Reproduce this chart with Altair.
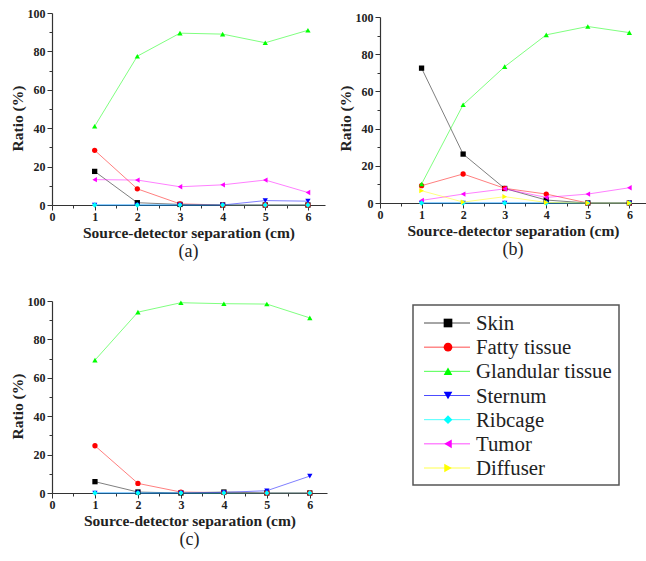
import altair as alt
import pandas as pd

# Source-detector separations (cm) at which each tissue ratio was computed
SEPARATION_CM = [1, 2, 3, 4, 5, 6]

TISSUES = ["Skin", "Fatty tissue", "Glandular tissue", "Sternum", "Ribcage", "Tumor", "Diffuser"]
TISSUE_COLORS = ["#000000", "#ff0000", "#00ff00", "#0000ff", "#00ffff", "#ff00ff", "#ffff00"]
TISSUE_SHAPES = ["square", "circle", "triangle-up", "triangle-down", "diamond",
                 "triangle-left", "triangle-right"]

# Panel (a)
A_SKIN = [17.5, 1.2, 0.3, 0.0, 0.0, 0.0]
A_FATTY = [28.5, 8.4, 0.6, 0.0, 0.0, 0.0]
A_GLANDULAR = [41.0, 77.5, 89.5, 89.0, 84.5, 91.0]
A_STERNUM = [0.0, 0.0, 0.0, 0.0, 2.3, 2.0]
A_TUMOR = [13.2, 13.0, 9.5, 10.5, 13.0, 6.5]
A_RIBCAGE = [0.0, 0.0, 0.0, 0.0, 0.0, 0.0]

# Panel (b)
B_SKIN = [72.5, 26.3, 7.8, 1.6, 0.0, 0.0]
B_FATTY = [9.3, 15.6, 7.9, 4.8, 0.0, 0.0]
B_GLANDULAR = [10.2, 52.8, 73.3, 90.4, 94.9, 91.6]
B_STERNUM = [0.0, 0.0, 0.0, 0.0, 0.0, 0.0]
B_TUMOR = [1.4, 4.8, 7.6, 3.0, 4.8, 8.2]
B_RIBCAGE = [0.0, 0.0, 0.0, 0.0, 0.0, 0.0]
B_DIFFUSER = [6.6, 0.5, 3.4, 0.3, 0.0, 0.0]

# Panel (c)
C_SKIN = [5.9, 0.5, 0.0, 0.5, 0.0, 0.0]
C_FATTY = [24.6, 5.0, 0.5, 0.2, 0.0, 0.0]
C_GLANDULAR = [69.2, 94.2, 99.1, 98.6, 98.4, 91.2]
C_STERNUM = [0.0, 0.0, 0.0, 0.3, 1.2, 8.8]
C_RIBCAGE = [0.0, 0.0, 0.0, 0.0, 0.0, 0.0]

X_TICK_VALUES = [0, 0.5, 1, 1.5, 2, 2.5, 3, 3.5, 4, 4.5, 5, 5.5, 6]
Y_TICK_VALUES = [0, 10, 20, 30, 40, 50, 60, 70, 80, 90, 100]

SERIF = "Liberation Serif"
INK = "#222222"


def long_table(series):
    rows = []
    for name, values in series:
        for sep, val in zip(SEPARATION_CM, values):
            rows.append({"tissue": name, "sep": sep, "ratio": val})
    return pd.DataFrame(rows)


color_scale = alt.Scale(domain=TISSUES, range=TISSUE_COLORS)
shape_scale = alt.Scale(domain=TISSUES, range=TISSUE_SHAPES)

x_axis = alt.Axis(
    values=X_TICK_VALUES,
    labelExpr="datum.value % 1 === 0 ? format(datum.value, 'd') : ''",
    tickSize={"condition": {"test": "datum.value % 1 !== 0", "value": 3}, "value": 5},
    labelOverlap=False, labelFlush=False, grid=False,
    labelPadding=1, titlePadding=3,
    title="Source-detector separation (cm)",
)
y_axis = alt.Axis(
    values=Y_TICK_VALUES,
    labelExpr="datum.value % 20 === 0 ? format(datum.value, 'd') : ''",
    tickSize={"condition": {"test": "datum.value % 20 !== 0", "value": 3}, "value": 5},
    labelOverlap=False, labelFlush=False, grid=False,
    labelPadding=2, titlePadding=2, titleY=105,
    title="Ratio (%)",
)


def panel(df, label, width, height, y_range=None):
    y_scale = alt.Scale(domain=[0, 100], nice=False, zero=False)
    if y_range is not None:
        y_scale = alt.Scale(domain=[0, 100], nice=False, zero=False, range=y_range)
    base = alt.Chart(df).encode(
        x=alt.X("sep:Q", scale=alt.Scale(domain=[0, 6.4], nice=False), axis=x_axis),
        y=alt.Y("ratio:Q", scale=y_scale, axis=y_axis),
        color=alt.Color("tissue:N", scale=color_scale, legend=None),
    )
    lines = base.mark_line(strokeWidth=1, opacity=0.5)
    points = base.mark_point(filled=True, size=28, opacity=1).encode(
        shape=alt.Shape("tissue:N", scale=shape_scale, legend=None)
    )
    return alt.layer(lines, points).properties(
        width=width, height=height,
        title=alt.TitleParams(label, orient="bottom", font=SERIF, fontSize=18,
                              fontWeight="normal", color=INK, offset=2),
    )


panel_a = panel(long_table([
    ("Skin", A_SKIN), ("Fatty tissue", A_FATTY), ("Glandular tissue", A_GLANDULAR),
    ("Sternum", A_STERNUM), ("Tumor", A_TUMOR), ("Ribcage", A_RIBCAGE),
]), "(a)", 273, 192)

panel_b = panel(long_table([
    ("Skin", B_SKIN), ("Fatty tissue", B_FATTY), ("Glandular tissue", B_GLANDULAR),
    ("Sternum", B_STERNUM), ("Tumor", B_TUMOR), ("Ribcage", B_RIBCAGE),
    ("Diffuser", B_DIFFUSER),
]), "(b)", 266, 190, y_range=[190, 4])

panel_c = panel(long_table([
    ("Skin", C_SKIN), ("Fatty tissue", C_FATTY), ("Glandular tissue", C_GLANDULAR),
    ("Sternum", C_STERNUM), ("Ribcage", C_RIBCAGE),
]), "(c)", 275, 192)

# Stand-alone key listing every tissue with its line and marker
KEY_LEFT = 33
legend_df = pd.DataFrame({"tissue": TISSUES})
legend_y = alt.Y("tissue:N", sort=TISSUES, axis=None,
                 scale=alt.Scale(type="point", range=[22, 167], padding=0))
legend_color = alt.Color("tissue:N", scale=color_scale, legend=None)
legend_rules = alt.Chart(legend_df).mark_rule(strokeWidth=1, opacity=0.7).encode(
    x=alt.value(KEY_LEFT + 11), x2=alt.value(KEY_LEFT + 57), y=legend_y, color=legend_color)
legend_marks = alt.Chart(legend_df).mark_point(filled=True, size=75, opacity=1).encode(
    x=alt.value(KEY_LEFT + 35), y=legend_y, color=legend_color,
    shape=alt.Shape("tissue:N", scale=shape_scale, legend=None))
legend_text = alt.Chart(legend_df).mark_text(
    align="left", baseline="middle", font=SERIF, fontSize=20.8, color=INK, dy=1
).encode(x=alt.value(KEY_LEFT + 63), y=legend_y, text="tissue:N")
legend_box = alt.Chart(pd.DataFrame({"box": [0]})).mark_rect(
    fillOpacity=0, stroke="#555555", strokeWidth=1.5
).encode(x=alt.value(KEY_LEFT), x2=alt.value(KEY_LEFT + 206),
         y=alt.value(4), y2=alt.value(184))
legend = alt.layer(legend_box, legend_rules, legend_marks, legend_text).properties(
    width=KEY_LEFT + 206, height=184)

chart = alt.concat(
    panel_a, panel_b, panel_c, legend,
    columns=2, bounds="flush", align="each",
    spacing={"row": 96, "column": 53},
).properties(
    padding={"left": 10, "top": 7, "right": 0, "bottom": 0},
    background="white",
).configure_view(stroke=None).configure_axis(
    labelFont=SERIF, labelFontSize=12, labelFontWeight="bold", labelColor=INK,
    titleFont=SERIF, titleFontSize=15.5, titleFontWeight="bold", titleColor=INK,
    domainColor="#333333", domainWidth=1.2, tickColor="#333333", tickWidth=1,
)

chart.save("out.html", embed_options={"renderer": "svg", "actions": False})
